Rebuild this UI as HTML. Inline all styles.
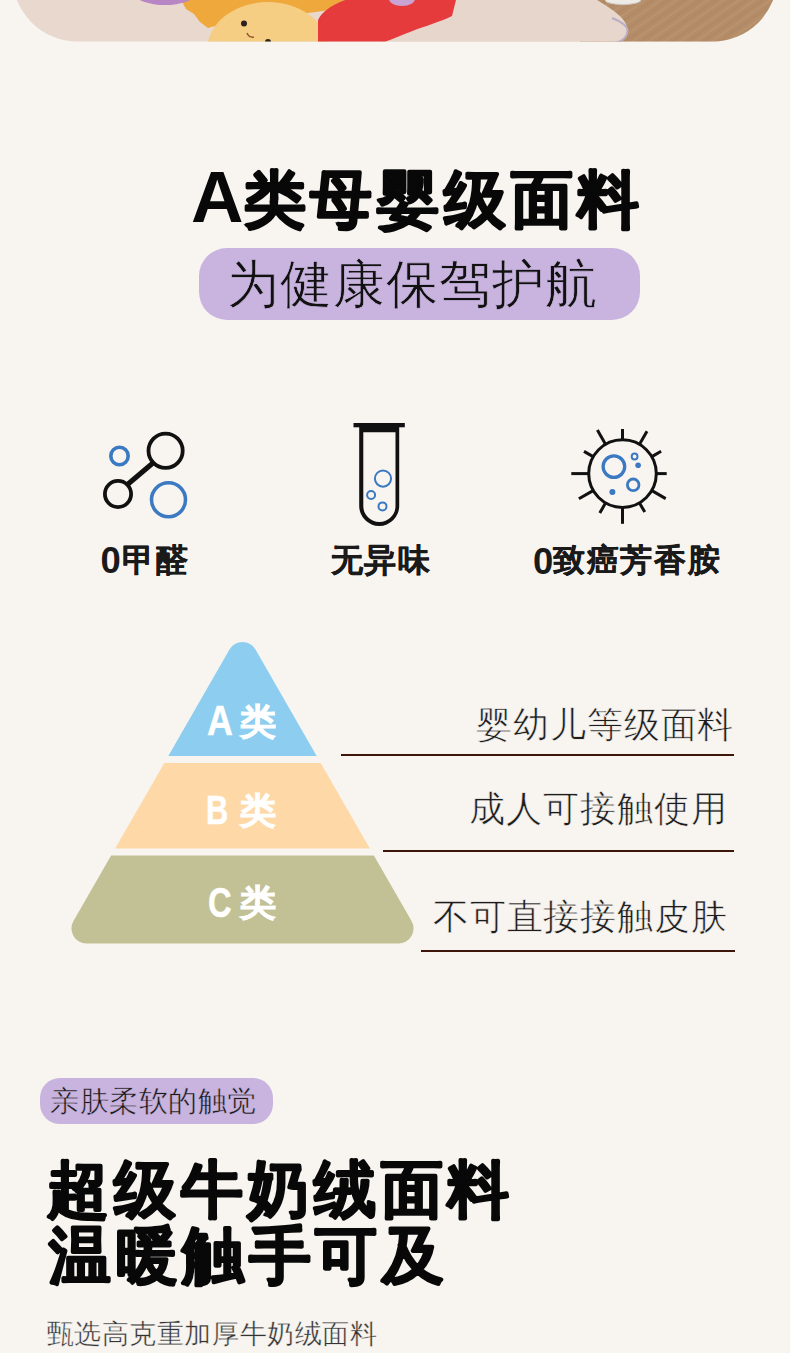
<!DOCTYPE html>
<html><head><meta charset="utf-8">
<style>
*{margin:0;padding:0;box-sizing:border-box}
html,body{width:790px;height:1353px;overflow:hidden;background:#f8f5f0}
body{position:relative;font-family:"Liberation Sans",sans-serif;color:#111}
.t{position:absolute;white-space:nowrap;line-height:1}
.ln{position:absolute;height:2px;background:#3e1609}
.pill{position:absolute;background:#c9b4df}
svg{position:absolute;left:0;top:0}
text{font-family:"Liberation Sans",sans-serif}
</style></head><body>
<svg width="790" height="60" viewBox="0 0 790 60" style="position:absolute;left:0;top:0">
<defs><clipPath id="pc"><path d="M12.5 -200 H777.5 V-23.5 A65 65 0 0 1 712.5 41.5 H77.5 A65 65 0 0 1 12.5 -23.5 Z"/></clipPath>
<pattern id="wood" patternUnits="userSpaceOnUse" width="9" height="9" patternTransform="rotate(-35)"><rect width="9" height="9" fill="#b48d68"/><rect width="9" height="2" fill="#b9936d"/><rect y="5" width="9" height="1" fill="#ad8762"/></pattern></defs>
<g clip-path="url(#pc)">
<rect x="0" y="0" width="790" height="60" fill="#e8d8ce"/>
<rect x="580" y="0" width="210" height="60" fill="url(#wood)"/>
<path d="M594 -2 C606 6 626 16 627.5 29 C628 37 622 42 612 44 L380 44 L380 -2 Z" fill="#e7d6cc"/>
<path d="M612 18 C622 22 628 26 627.5 31 C627 38 622 42 612 43.5" fill="none" stroke="#b9aec6" stroke-width="2"/>
<ellipse cx="623" cy="0" rx="18" ry="4.5" fill="#eeeae6" stroke="#cfc8c4" stroke-width="1"/>
<path d="M181 0 L186 9 L194 14 L200 22 L208 28 L215 26 L330 10 L345 0 Z" fill="#eea83c"/>
<ellipse cx="268" cy="50" rx="61" ry="48" fill="#f5cd83"/>
<path d="M318 44 L318 20 C322 12 330 6 345 0 L456 0 L452 16 C440 22 425 26 410 32 C395 38 385 42 380 44 Z" fill="#e63b3d"/>
<ellipse cx="165" cy="-6" rx="30" ry="11" fill="#b986c5"/>
<ellipse cx="402" cy="-1" rx="13" ry="7" fill="#c9a3d4"/>
<circle cx="244" cy="23.5" r="3" fill="#2b2220"/>
<circle cx="268" cy="42" r="3" fill="#2b2220"/>
<path d="M247 33 Q249 38 254 37" fill="none" stroke="#9a5a30" stroke-width="1.5"/>
</g>
</svg>

<div class="pill" style="left:199px;top:248px;width:441px;height:72px;border-radius:28px"></div>
<div class="pill" style="left:40px;top:1077.5px;width:233px;height:46.5px;border-radius:20px"></div>
<svg width="790" height="1353" viewBox="0 0 790 1353">
  <!-- icon 1 -->
  <g fill="none" stroke-width="3.8">
    <circle cx="165.6" cy="450.8" r="17.1" stroke="#111"/>
    <circle cx="118" cy="494" r="13.1" stroke="#111"/>
    <line x1="127.5" y1="484.5" x2="153.5" y2="462.5" stroke="#111" stroke-width="5"/>
    <circle cx="119.5" cy="456" r="8.7" stroke="#3b79c3" stroke-width="3.6"/>
    <circle cx="168.5" cy="499.7" r="17" stroke="#3b79c3" stroke-width="3.6"/>
  </g>
  <!-- icon 2 test tube -->
  <g>
    <rect x="353.5" y="423" width="51.3" height="4.3" fill="#111"/>
    <path d="M359.2 423 H399.2 V505.9 A20 20 0 0 1 359.2 505.9 Z M363.3 432.2 V505.9 A16.1 16.1 0 0 0 395.5 505.9 V432.2 Z" fill="#111" fill-rule="evenodd"/>
    <g fill="none" stroke="#3b79c3" stroke-width="2">
      <circle cx="383" cy="478.6" r="8.1"/>
      <circle cx="371.1" cy="495" r="4"/>
      <circle cx="382.5" cy="506.4" r="4"/>
    </g>
  </g>
  <!-- icon 3 virus -->
  <g id="virus" stroke="#111" stroke-width="3" fill="none" stroke-linecap="butt">
    <circle cx="622.5" cy="473.6" r="33.8"/>
    <line x1="656.5" y1="473.6" x2="666.7" y2="473.6"/><line x1="651.9" y1="490.6" x2="665.7" y2="498.6"/><line x1="639.5" y1="503.0" x2="644.8" y2="512.1"/><line x1="622.5" y1="507.6" x2="622.5" y2="523.8"/><line x1="605.5" y1="503.0" x2="599.8" y2="513.0"/><line x1="593.1" y1="490.6" x2="578.9" y2="498.8"/><line x1="588.5" y1="473.6" x2="571.3" y2="473.6"/><line x1="593.1" y1="456.6" x2="584.0" y2="451.4"/><line x1="605.5" y1="444.2" x2="597.4" y2="430.1"/><line x1="622.5" y1="439.6" x2="622.5" y2="429.0"/><line x1="639.5" y1="444.2" x2="647.0" y2="431.3"/><line x1="651.9" y1="456.6" x2="661.1" y2="451.3"/>
  </g>
  <g fill="none" stroke="#3b79c3">
    <circle cx="613.9" cy="466.6" r="10.8" stroke-width="3.3"/>
    <circle cx="634.6" cy="456.5" r="2.9" stroke-width="2"/>
    <circle cx="633.2" cy="484.8" r="5.8" stroke-width="2.8"/>
  </g>
  <g fill="#3b79c3">
    <circle cx="638.1" cy="465.3" r="2.8"/>
    <circle cx="612.4" cy="492.1" r="3"/>
  </g>

  <!-- pyramid -->
  <path id="pA" fill="#8ccdf0" d="M168.32 756 L229.50 649.61 A15 15 0 0 1 255.50 649.61 L316.68 756 Z"/>
  <path id="pB" fill="#fed9a7" d="M164.30 763 L320.70 763 L369.86 848.5 L115.14 848.5 Z"/>
  <path id="pC" fill="#c2c195" d="M111.11 855.5 L373.89 855.5 L411.56 921.02 A15 15 0 0 1 398.56 943.5 L86.44 943.5 A15 15 0 0 1 73.44 921.02 Z"/>
</svg>
<div class="ln" style="left:340.5px;top:754px;width:393.5px"></div>
<div class="ln" style="left:383px;top:850px;width:351px"></div>
<div class="ln" style="left:420.5px;top:950px;width:314px"></div>
<div class="t" style="left:191.10px;top:161.00px;font-size:72.7px;letter-spacing:0px;font-weight:700;color:#080808;">A</div>
<svg width="790" height="1353" style="position:absolute;left:0;top:0;overflow:visible" id="v1"><text x="243.7" y="221" font-size="62" font-weight="700" fill="#080808" stroke="#080808" stroke-width="2.2" stroke-linejoin="round" style="letter-spacing:4.76px;">类母婴级面料</text></svg>
<div class="t" style="left:227.20px;top:258.10px;font-size:52px;letter-spacing:0.9px;font-weight:400;color:#111;-webkit-text-stroke:0.7px #c9b4df">为健康保驾护航</div>
<div class="t" style="left:100.60px;top:542.95px;font-size:36.5px;letter-spacing:0px;font-weight:700;color:#1a1a1a;">0</div>
<svg width="790" height="1353" style="position:absolute;left:0;top:0;overflow:visible" id="v4"><text x="122" y="571" font-size="32" font-weight="700" fill="#1a1a1a" stroke="#1a1a1a" stroke-width="0.4" stroke-linejoin="round" style="letter-spacing:1.5px;">甲醛</text></svg>
<svg width="790" height="1353" style="position:absolute;left:0;top:0;overflow:visible" id="v5"><text x="330.6" y="571.2" font-size="32" font-weight="700" fill="#1a1a1a" stroke="#1a1a1a" stroke-width="0.4" stroke-linejoin="round" style="letter-spacing:1.7px;">无异味</text></svg>
<div class="t" style="left:533.00px;top:543.50px;font-size:36.5px;letter-spacing:0px;font-weight:700;color:#1a1a1a;">0</div>
<svg width="790" height="1353" style="position:absolute;left:0;top:0;overflow:visible" id="v7"><text x="552.9" y="570.6" font-size="32" font-weight="700" fill="#1a1a1a" stroke="#1a1a1a" stroke-width="0.4" stroke-linejoin="round" style="letter-spacing:1.8px;">致癌芳香胺</text></svg>
<div class="t" style="left:207.10px;top:700.40px;font-size:42.2px;letter-spacing:0px;font-weight:700;color:#fff;transform:scaleX(0.85);transform-origin:0 0;-webkit-text-stroke:0.5px #fff">A</div>
<div class="t" style="left:240.00px;top:704.50px;font-size:35.5px;letter-spacing:0px;font-weight:700;color:#fff;-webkit-text-stroke:0.8px #fff">类</div>
<div class="t" style="left:206.40px;top:790.30px;font-size:41.4px;letter-spacing:0px;font-weight:700;color:#fff;transform:scaleX(0.745);transform-origin:0 0;-webkit-text-stroke:0.5px #fff">B</div>
<div class="t" style="left:240.00px;top:794.00px;font-size:35.5px;letter-spacing:0px;font-weight:700;color:#fff;-webkit-text-stroke:0.8px #fff">类</div>
<div class="t" style="left:207.60px;top:882.30px;font-size:41.8px;letter-spacing:0px;font-weight:700;color:#fff;transform:scaleX(0.78);transform-origin:0 0;-webkit-text-stroke:0.5px #fff">C</div>
<div class="t" style="left:240.00px;top:886.30px;font-size:35.5px;letter-spacing:0px;font-weight:700;color:#fff;-webkit-text-stroke:0.8px #fff">类</div>
<div class="t" style="left:476.45px;top:707.10px;font-size:36px;letter-spacing:0.82px;font-weight:400;color:#1c1c1c;-webkit-text-stroke:0.6px #f8f5f0">婴幼儿等级面料</div>
<div class="t" style="left:469.06px;top:790.90px;font-size:36px;letter-spacing:0.95px;font-weight:400;color:#1c1c1c;-webkit-text-stroke:0.6px #f8f5f0">成人可接触使用</div>
<div class="t" style="left:432.80px;top:898.50px;font-size:36px;letter-spacing:0.88px;font-weight:400;color:#1c1c1c;-webkit-text-stroke:0.6px #f8f5f0">不可直接接触皮肤</div>
<div class="t" style="left:50.40px;top:1087.00px;font-size:29px;letter-spacing:0.46px;font-weight:400;color:#1a1a1a;-webkit-text-stroke:0.5px #c9b4df">亲肤柔软的触觉</div>
<svg width="790" height="1353" style="position:absolute;left:0;top:0;overflow:visible" id="v18"><text x="47.3" y="1211" font-size="62" font-weight="700" fill="#080808" stroke="#080808" stroke-width="2.2" stroke-linejoin="round" style="letter-spacing:4.65px;">超级牛奶绒面料</text></svg>
<svg width="790" height="1353" style="position:absolute;left:0;top:0;overflow:visible" id="v19"><text x="49.3" y="1277.3" font-size="62" font-weight="700" fill="#080808" stroke="#080808" stroke-width="2.2" stroke-linejoin="round" style="letter-spacing:4.5px;">温暖触手可及</text></svg>
<div class="t" style="left:46.65px;top:1321.00px;font-size:26.5px;letter-spacing:0.57px;font-weight:400;color:#333;-webkit-text-stroke:0.4px #f8f5f0">甄选高克重加厚牛奶绒面料</div>
</body></html>
